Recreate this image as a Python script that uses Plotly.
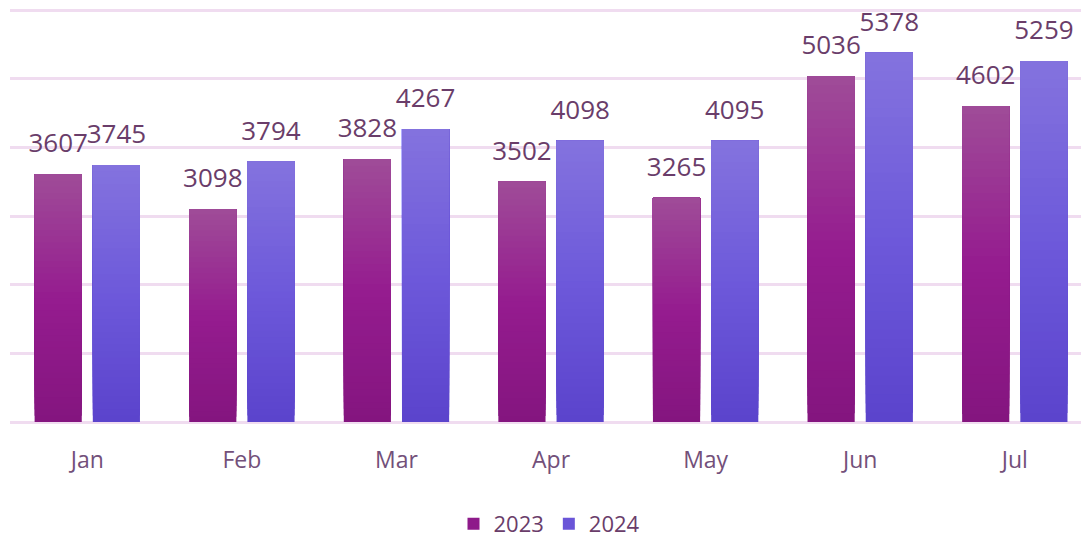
import plotly.graph_objects as go

months = ["Jan", "Feb", "Mar", "Apr", "May", "Jun", "Jul"]
sales_2023 = [3607, 3098, 3828, 3502, 3265, 5036, 4602]
sales_2024 = [3745, 3794, 4267, 4098, 4095, 5378, 5259]
y_ticks = [0, 1000, 2000, 3000, 4000, 5000, 6000]

N = 40            # gradient slices per bar
LABEL_PAD = 160   # gap (data units) between bar top and its label


def hex2rgb(h):
    h = h.lstrip("#")
    return [int(h[i:i + 2], 16) for i in (0, 2, 4)]


def interp(stops, t):
    for (t0, c0), (t1, c1) in zip(stops, stops[1:]):
        if t0 <= t <= t1:
            f = (t - t0) / (t1 - t0) if t1 > t0 else 0
            a, b = hex2rgb(c0), hex2rgb(c1)
            return "rgb({},{},{})".format(*[round(a[k] + (b[k] - a[k]) * f) for k in range(3)])
    return stops[-1][1]


stops_2023 = [(0, "#84157f"), (0.5, "#951c8f"), (1, "#9f4c98")]
stops_2024 = [(0, "#5b43cc"), (0.5, "#6d59da"), (1, "#8473de")]


def gradient_trace(name, values, stops, legend_color):
    # zero-height first point only sets the legend swatch colour
    xs, ys, bases, colors, texts = [months[0]], [0], [0], [legend_color], [""]
    # slices drawn bottom-up, each reaching the bar top so no seams appear
    for i in range(N):
        for m, v in zip(months, values):
            b = v * i / N
            xs.append(m)
            ys.append(v - b)
            bases.append(b)
            colors.append(interp(stops, (i + 0.5) / N))
            texts.append("")
    # transparent spacer above each bar that carries the value label
    for m, v in zip(months, values):
        xs.append(m)
        ys.append(LABEL_PAD)
        bases.append(v)
        colors.append("rgba(0,0,0,0)")
        texts.append(str(v))
    return go.Bar(
        name=name, x=xs, y=ys, base=bases, offsetgroup=name,
        marker=dict(color=colors, line=dict(width=0)),
        text=texts, textposition="outside", constraintext="none",
        textfont=dict(size=26, color="#6a3d6a", family="Open Sans"),
        cliponaxis=False, hoverinfo="skip",
    )


fig = go.Figure()
fig.add_trace(gradient_trace("2023", sales_2023, stops_2023, "#8e1a8a"))
fig.add_trace(gradient_trace("2024", sales_2024, stops_2024, "#6a55d8"))

W, H = 1081, 534  # page body adds an 8px margin
fig.update_layout(
    width=W, height=H,
    margin=dict(l=2, r=0, t=0, b=120, autoexpand=False),
    paper_bgcolor="white", plot_bgcolor="white",
    barmode="group", bargap=0.247, bargroupgap=0.19,
    font=dict(family="Open Sans", color="#73507a"),
    showlegend=True,
    legend=dict(orientation="h", x=0.5, xanchor="center", yref="container",
                y=1 - 516 / H, yanchor="middle",
                font=dict(size=22, color="#6a3d6a"), itemwidth=30, traceorder="normal"),
)
fig.update_xaxes(categoryorder="array", categoryarray=months, range=[-0.5, 6.48],
                 showgrid=False, automargin=False,
                 showline=False, ticks="", tickfont=dict(size=23, color="#73507a"),
                 ticklabelstandoff=22)
fig.update_yaxes(range=[0, 6030], tickvals=y_ticks, showticklabels=False, automargin=False,
                 showgrid=True, gridcolor="#f0dcf0", gridwidth=2.5,
                 zeroline=True, zerolinecolor="#f0dcf0", zerolinewidth=2.5)

fig.write_html("out.html")
